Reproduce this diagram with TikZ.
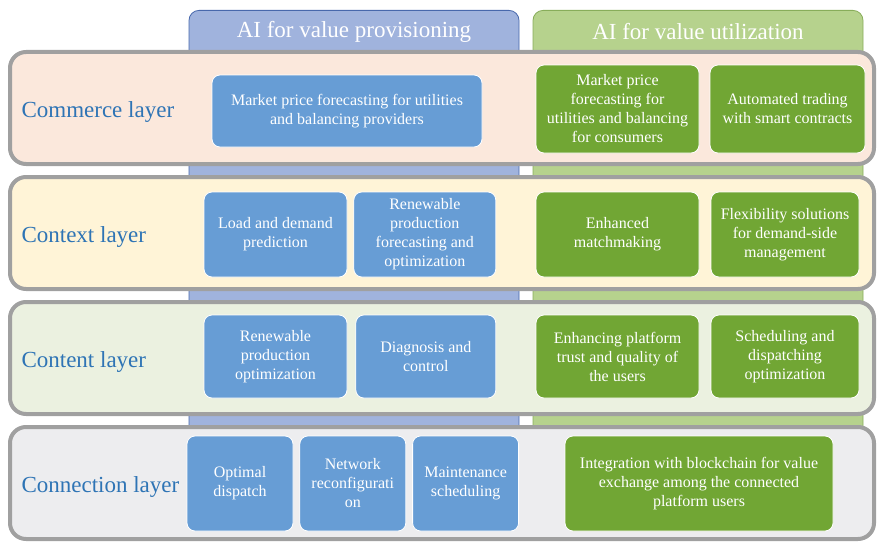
\documentclass[tikz,border=0pt]{standalone}
\usepackage{fontspec}
\setmainfont{Liberation Serif}
\usetikzlibrary{positioning}

\definecolor{colBlue}{RGB}{160,179,221}
\definecolor{colBlueLine}{RGB}{72,104,172}
\definecolor{colGreen}{RGB}{182,210,141}
\definecolor{colGreenLine}{RGB}{136,173,90}
\definecolor{itemBlue}{RGB}{103,157,213}
\definecolor{itemGreen}{RGB}{113,166,52}
\definecolor{bandGray}{RGB}{160,160,160}
\definecolor{labelBlue}{RGB}{46,116,181}
\definecolor{commerceFill}{RGB}{251,232,220}
\definecolor{contextFill}{RGB}{255,244,215}
\definecolor{contentFill}{RGB}{235,241,224}
\definecolor{connectionFill}{RGB}{237,237,239}

\begin{document}
\begin{tikzpicture}[
        x=1pt, y=-1pt,
        column_box/.style={
            draw,
            rounded corners=10pt,
            line width=0.8pt,
            anchor=north,
            minimum width=330pt,
            minimum height=440pt
        },
        column_title/.style={
            text=white,
            font=\fontsize{23}{27}\selectfont
        },
        layer_band/.style={
            draw=bandGray,
            line width=4pt,
            rounded corners=16pt,
            minimum width=864pt,
            minimum height=112pt
        },
        layer_label/.style={
            anchor=west,
            text=labelBlue,
            font=\fontsize{23}{27}\selectfont
        },
        item_box/.style={
            draw=white,
            rounded corners=8pt,
            line width=0.8pt,
            text=white,
            align=center,
            inner sep=2pt,
            font=\fontsize{16}{19}\selectfont
        },
        blue_box/.style={item_box, fill=itemBlue},
        green_box/.style={item_box, fill=itemGreen}
    ]
        \useasboundingbox (0,0) rectangle (877,543);

        % columns behind the layers
        \node[column_box, fill=colBlue, draw=colBlueLine] (prov_col) at (354,10) {};
        \node[column_box, fill=colGreen, draw=colGreenLine] (util_col) at (698,10) {};
        \node[column_title] (prov_title) at (354,32) {AI for value provisioning};
        \node[column_title] (util_title) at (698,32) {AI for value utilization};

        % layers
        \node[layer_band, fill=commerceFill] (commerce) at (442,108) {};
        \node[layer_band, fill=contextFill] (context) at (442,233) {};
        \node[layer_band, fill=contentFill] (content) at (442,358) {};
        \node[layer_band, fill=connectionFill] (connection) at (442,483) {};

        \node[layer_label] (commerce_lbl) at (18,112) {Commerce layer};
        \node[layer_label] (context_lbl) at (18,237) {Context layer};
        \node[layer_label] (content_lbl) at (18,362) {Content layer};
        \node[layer_label] (connection_lbl) at (18,487) {Connection layer};

        % commerce layer
        \node[blue_box, minimum width=270pt, minimum height=72pt] (com_prov) at (347,111)
            {Market price forecasting for utilities\\and balancing providers};
        \node[green_box, minimum width=163pt, minimum height=88pt] (com_util_a) at (617.5,109)
            {Market price\\forecasting for\\utilities and balancing\\for consumers};
        \node[green_box, minimum width=155pt, minimum height=88pt] (com_util_b) at (787.5,109)
            {Automated trading\\with smart contracts};

        % context layer
        \node[blue_box, minimum width=143pt, minimum height=85pt] (ctx_prov_a) at (275.5,234.5)
            {Load and demand\\prediction};
        \node[blue_box, minimum width=142pt, minimum height=85pt, right=6pt of ctx_prov_a] (ctx_prov_b)
            {Renewable\\production\\forecasting and\\optimization};
        \node[green_box, minimum width=163pt, minimum height=85pt] (ctx_util_a) at (617.5,234.5)
            {Enhanced\\matchmaking};
        \node[green_box, minimum width=148pt, minimum height=85pt] (ctx_util_b) at (785,234.5)
            {Flexibility solutions\\for demand-side\\management};

        % content layer
        \node[blue_box, minimum width=143pt, minimum height=83pt] (cnt_prov_a) at (275.5,356.5)
            {Renewable\\production\\optimization};
        \node[blue_box, minimum width=140pt, minimum height=83pt, right=8pt of cnt_prov_a] (cnt_prov_b)
            {Diagnosis and\\control};
        \node[green_box, minimum width=163pt, minimum height=83pt] (cnt_util_a) at (617.5,356.5)
            {Enhancing platform\\trust and quality of\\the users};
        \node[green_box, minimum width=148pt, minimum height=83pt] (cnt_util_b) at (785,356.5)
            {Scheduling and\\dispatching\\optimization};

        % connection layer
        \node[blue_box, minimum width=106pt, minimum height=95pt] (con_prov_a) at (240,483.5)
            {Optimal\\dispatch};
        \node[blue_box, minimum width=106pt, minimum height=95pt, right=6pt of con_prov_a] (con_prov_b)
            {Network\\reconfigurati\\on};
        \node[blue_box, minimum width=106pt, minimum height=95pt, right=6pt of con_prov_b] (con_prov_c)
            {Maintenance\\scheduling};
        \node[green_box, minimum width=268pt, minimum height=95pt] (con_util) at (699,483.5)
            {Integration with blockchain for value\\exchange among the connected\\platform users};
    \end{tikzpicture}
\end{document}
